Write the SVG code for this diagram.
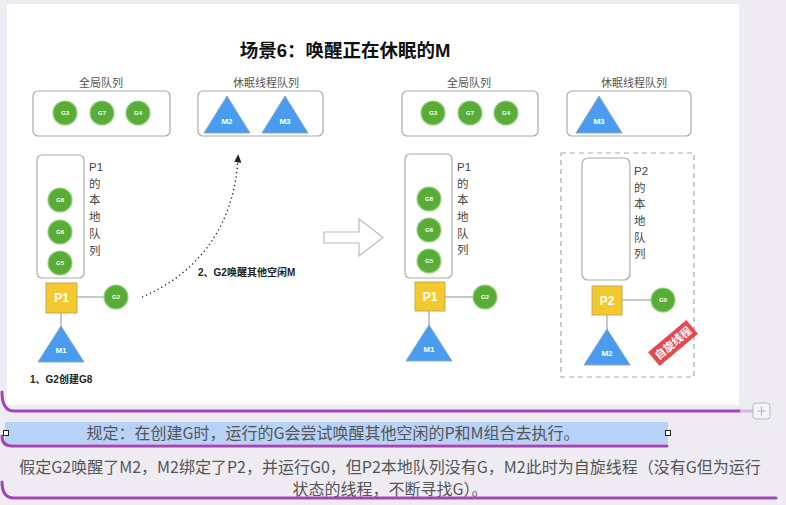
<svg xmlns="http://www.w3.org/2000/svg" width="786" height="505" viewBox="0 0 786 505">
<defs>
<style>
.lbl{font-family:"Liberation Sans","Noto Sans CJK SC",sans-serif;font-size:11px;fill:#555;text-anchor:middle}
.box{fill:#fff;stroke:#aaa;stroke-width:1.2}
.g{fill:#57ad36;stroke:#9ccf88;stroke-width:1.2}
.gt{font-family:"Liberation Sans",sans-serif;font-size:6px;font-weight:bold;fill:#fff;text-anchor:middle}
.m{fill:#4a9cf0;stroke:#88a8c8;stroke-width:1}
.mt{font-family:"Liberation Sans",sans-serif;font-size:8px;font-weight:bold;fill:#fff;text-anchor:middle}
.p{fill:#f4c92e;stroke:#c7a856;stroke-width:1}
.pt{font-family:"Liberation Sans",sans-serif;font-size:12px;font-weight:bold;fill:#fff;text-anchor:middle}
.ln{stroke:#aaa;stroke-width:1.3;fill:none}
.vt{font-family:"Liberation Sans","Noto Sans CJK SC",sans-serif;font-size:11.5px;fill:#444}
.bt{font-family:"Liberation Sans","Noto Sans CJK SC",sans-serif;font-size:10px;font-weight:bold;fill:#222}
.cap{font-family:"Noto Sans CJK SC",sans-serif;font-size:16px;fill:#555;text-anchor:middle}
.pur{stroke:#a046b8;stroke-width:3;fill:none;stroke-linecap:round}
</style>
<marker id="ah" viewBox="0 0 10 10" refX="5" refY="5" markerWidth="7" markerHeight="7" orient="auto">
<path d="M0,1 L9,5 L0,9 z" fill="#222"/>
</marker>
</defs>
<rect width="786" height="505" fill="#eeecf2"/>
<rect x="7" y="4" width="732" height="401" fill="#fff"/>

<text x="345" y="57" font-family="Liberation Sans,Noto Sans CJK SC,sans-serif" font-size="18.5" font-weight="bold" fill="#111" text-anchor="middle">场景6：唤醒正在休眠的M</text>

<g id="left-global">
<text class="lbl" x="101" y="87">全局队列</text>
<rect class="box" x="33" y="91" width="137" height="45" rx="5"/>
<circle class="g" cx="65" cy="113" r="12"/><text class="gt" x="65" y="115">G3</text>
<circle class="g" cx="102" cy="113" r="12"/><text class="gt" x="102" y="115">G7</text>
<circle class="g" cx="138" cy="113" r="12"/><text class="gt" x="138" y="115">G4</text>
</g>
<g id="left-sleep">
<text class="lbl" x="266" y="87">休眠线程队列</text>
<rect class="box" x="198" y="91" width="125" height="45" rx="5"/>
<polygon class="m" points="227,96 250,133 204,133"/><text class="mt" x="227" y="124">M2</text>
<polygon class="m" points="285,96 308,133 262,133"/><text class="mt" x="285" y="124">M3</text>
</g>
<g id="left-p1queue">
<rect class="box" x="37" y="155" width="47" height="123" rx="5"/>
<circle class="g" cx="60" cy="200" r="12"/><text class="gt" x="60" y="202">G8</text>
<circle class="g" cx="60" cy="232" r="12"/><text class="gt" x="60" y="234">G6</text>
<circle class="g" cx="60" cy="263" r="12"/><text class="gt" x="60" y="265">G5</text>
<text class="vt" x="89" y="171">P1</text>
<text class="vt" x="89" y="188">的</text>
<text class="vt" x="89" y="204">本</text>
<text class="vt" x="89" y="221">地</text>
<text class="vt" x="89" y="238">队</text>
<text class="vt" x="89" y="255">列</text>
</g>
<g id="left-p1">
<line class="ln" x1="77" y1="297" x2="104" y2="297"/>
<line class="ln" x1="61" y1="313" x2="61" y2="327"/>
<rect class="p" x="46" y="283" width="31" height="30"/><text class="pt" x="61.5" y="302">P1</text>
<circle class="g" cx="116" cy="297" r="12"/><text class="gt" x="116" y="299">G2</text>
<polygon class="m" points="61,326 84,362 38,362"/><text class="mt" x="61" y="353">M1</text>
<text class="bt" x="30" y="383">1、G2创建G8</text>
</g>
<g id="connectors">
<path d="M142,297 C192,276 234,232 238,158" fill="none" stroke="#222" stroke-width="1.3" stroke-dasharray="1.3 3" marker-end="url(#ah)"/>
<path d="M324,232 H359 V219 L383,237.5 L359,256 V243 H324 Z" fill="#fff" stroke="#bbb" stroke-width="1.2"/>
</g>
<text class="bt" x="198" y="276">2、G2唤醒其他空闲M</text>

<g id="right-global">
<text class="lbl" x="469" y="87">全局队列</text>
<rect class="box" x="402" y="91" width="136" height="45" rx="5"/>
<circle class="g" cx="433" cy="113" r="12"/><text class="gt" x="433" y="115">G3</text>
<circle class="g" cx="470" cy="113" r="12"/><text class="gt" x="470" y="115">G7</text>
<circle class="g" cx="506" cy="113" r="12"/><text class="gt" x="506" y="115">G4</text>
</g>
<g id="right-sleep">
<text class="lbl" x="634" y="87">休眠线程队列</text>
<rect class="box" x="567" y="91" width="124" height="45" rx="5"/>
<polygon class="m" points="599,96 622,133 576,133"/><text class="mt" x="599" y="124">M3</text>
</g>
<g id="right-p1queue">
<rect class="box" x="405" y="154" width="47" height="124" rx="5"/>
<circle class="g" cx="429" cy="199" r="12"/><text class="gt" x="429" y="201">G8</text>
<circle class="g" cx="429" cy="230" r="12"/><text class="gt" x="429" y="232">G6</text>
<circle class="g" cx="429" cy="261" r="12"/><text class="gt" x="429" y="263">G5</text>
<text class="vt" x="457" y="171">P1</text>
<text class="vt" x="457" y="188">的</text>
<text class="vt" x="457" y="204">本</text>
<text class="vt" x="457" y="221">地</text>
<text class="vt" x="457" y="238">队</text>
<text class="vt" x="457" y="254">列</text>
</g>
<g id="right-p1">
<line class="ln" x1="445" y1="297" x2="473" y2="297"/>
<line class="ln" x1="429" y1="311" x2="429" y2="326"/>
<rect class="p" x="415" y="282" width="30" height="29"/><text class="pt" x="430" y="301">P1</text>
<circle class="g" cx="485" cy="297" r="12"/><text class="gt" x="485" y="299">G2</text>
<polygon class="m" points="429,325 452,361 406,361"/><text class="mt" x="429" y="352">M1</text>
</g>
<g id="right-p2">
<rect x="561" y="153" width="133" height="224" fill="none" stroke="#aaa" stroke-width="1.2" stroke-dasharray="5 4"/>
<rect class="box" x="582" y="158" width="48" height="122" rx="6"/>
<text class="vt" x="634" y="175">P2</text>
<text class="vt" x="634" y="192">的</text>
<text class="vt" x="634" y="208">本</text>
<text class="vt" x="634" y="225">地</text>
<text class="vt" x="634" y="242">队</text>
<text class="vt" x="634" y="258">列</text>
<line class="ln" x1="622" y1="300" x2="651" y2="300"/>
<line class="ln" x1="607" y1="315" x2="607" y2="330"/>
<rect class="p" x="592" y="286" width="30" height="29"/><text class="pt" x="607" y="305">P2</text>
<circle class="g" cx="663" cy="300" r="12"/><text class="gt" x="663" y="302">G0</text>
<polygon class="m" points="607,329 630,365 584,365"/><text class="mt" x="607" y="356">M2</text>
<g transform="translate(673,343) rotate(-40)">
<rect x="-25" y="-9" width="50" height="18" fill="#e5484d"/>
<text x="0" y="4" font-family="Noto Sans CJK SC,sans-serif" font-size="11" font-weight="bold" fill="#fff" text-anchor="middle">自旋线程</text>
</g>
</g>

<g id="mindmap">
<path class="pur" d="M2,392 Q2,411 14,411 H740"/>
<line x1="740" y1="411" x2="753" y2="411" stroke="#d9b6e3" stroke-width="3"/>
<rect x="753" y="403" width="17" height="16" rx="3" fill="#f4f3f7" stroke="#b8b8c0" stroke-width="1"/>
<path d="M761.5,406.5 V415.5 M757,411 H766" stroke="#b8b8c0" stroke-width="1.2"/>
<rect x="5" y="422" width="663" height="22" fill="#b7d2f6"/>
<path class="pur" d="M2,436 Q2,446 12,446 H667"/>
<rect x="3.5" y="430.5" width="5" height="5" fill="#fff" stroke="#222" stroke-width="1"/>
<rect x="665.5" y="430.5" width="5" height="5" fill="#fff" stroke="#222" stroke-width="1"/>
<text class="cap" x="333" y="439">规定：在创建G时，运行的G会尝试唤醒其他空闲的P和M组合去执行。</text>
<text class="cap" x="390" y="473">假定G2唤醒了M2，M2绑定了P2，并运行G0，但P2本地队列没有G，M2此时为自旋线程（没有G但为运行</text>
<text class="cap" x="390" y="495">状态的线程，不断寻找G）。</text>
<path class="pur" d="M2,482 Q2,498 14,498 H776"/>
</g>
</svg>
